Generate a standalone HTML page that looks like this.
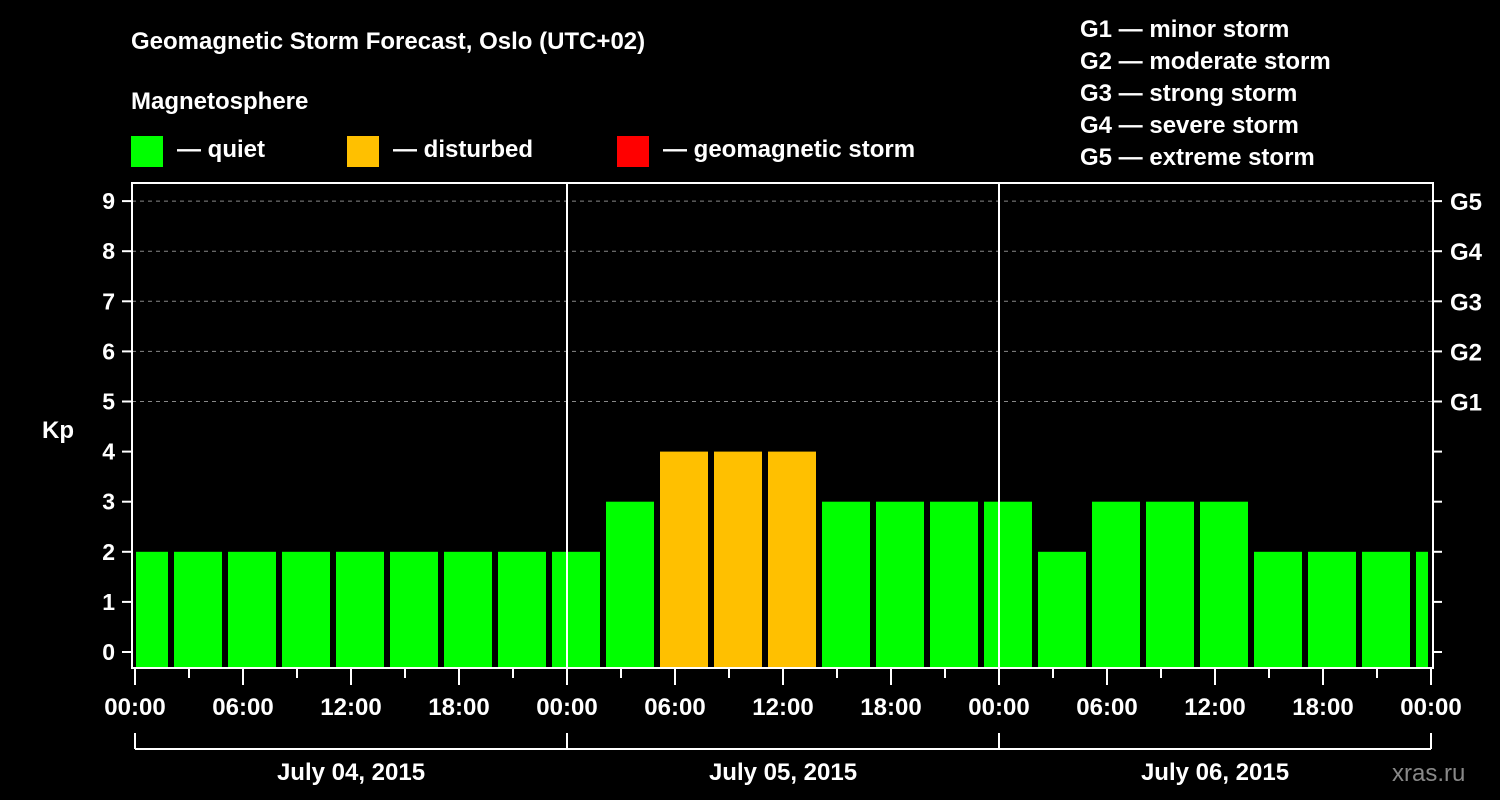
<!DOCTYPE html>
<html><head><meta charset="utf-8"><style>
body{margin:0;background:#000;}
svg{display:block;font-family:"Liberation Sans",Arial,sans-serif;font-weight:bold;}
</style></head><body>
<svg id="chart" width="1500" height="800" viewBox="0 0 1500 800">
<rect width="1500" height="800" fill="#000"/>
<text x="131" y="49" fill="#fff" font-size="24">Geomagnetic Storm Forecast, Oslo (UTC+02)</text>
<text x="131" y="109" fill="#fff" font-size="24">Magnetosphere</text>
<g><rect x="131" y="136" width="32" height="31" fill="#00ff00"/><text x="177" y="157" fill="#fff" font-size="24">— quiet</text></g>
<g><rect x="347" y="136" width="32" height="31" fill="#ffc000"/><text x="393" y="157" fill="#fff" font-size="24">— disturbed</text></g>
<g><rect x="617" y="136" width="32" height="31" fill="#ff0000"/><text x="663" y="157" fill="#fff" font-size="24">— geomagnetic storm</text></g>
<g fill="#fff" font-size="24">
<text x="1080" y="37">G1 — minor storm</text>
<text x="1080" y="69">G2 — moderate storm</text>
<text x="1080" y="101">G3 — strong storm</text>
<text x="1080" y="133">G4 — severe storm</text>
<text x="1080" y="165">G5 — extreme storm</text>
</g>
<text x="42" y="438" fill="#fff" font-size="24">Kp</text>
<g id="grid"></g><g id="bars"></g><g id="axes"></g>
<text x="1392" y="781" fill="#888" font-size="24" font-weight="normal">xras.ru</text>
</svg>
<script>
const kpValues=[2,2,2,2,2,2,2,2,2,3,4,4,4,3,3,3,3,2,3,3,3,2,2,2,2];
const firstBarStartHour=-1;
const dayLabels=["July 04, 2015","July 05, 2015","July 06, 2015"];
const hourLabels=["00:00","06:00","12:00","18:00"];
const gLabels=["G1","G2","G3","G4","G5"];
const NS="http://www.w3.org/2000/svg";
const X0=135,PXH=18,TOTAL=72,Y0=652,PYK=50.1,TOP=183,BOT=668,LEFT=132,RIGHT=1433;
const xs=h=>X0+h*PXH, ys=k=>Y0-k*PYK;
function mk(p,t,a){const e=document.createElementNS(NS,t);for(const k in a)e.setAttribute(k,a[k]);p.appendChild(e);return e;}
const grid=document.getElementById('grid'),bars=document.getElementById('bars'),axes=document.getElementById('axes');
for(let k=5;k<=9;k++){const l=mk(grid,'line',{x1:LEFT,x2:RIGHT,y1:ys(k),y2:ys(k),stroke:'#888','stroke-dasharray':'4,4','stroke-width':1});

}
kpValues.forEach((v,i)=>{const s=firstBarStartHour+3*i;let x1=Math.max(xs(s)+3,LEFT+4),x2=Math.min(xs(s+3)-3,RIGHT-5);
const c=v>=5?'#ff0000':(v>=4?'#ffc000':'#00ff00');
const r=mk(bars,'rect',{x:x1,y:ys(v),width:x2-x1,height:BOT-ys(v),fill:c});

});
mk(axes,'rect',{x:LEFT,y:TOP,width:RIGHT-LEFT,height:BOT-TOP,fill:'none',stroke:'#fff','stroke-width':2});
for(let d=1;d<3;d++)mk(axes,'line',{x1:xs(24*d),x2:xs(24*d),y1:TOP,y2:BOT,stroke:'#fff','stroke-width':2});
for(let k=0;k<=9;k++){mk(axes,'line',{x1:LEFT-10,x2:LEFT,y1:ys(k),y2:ys(k),stroke:'#fff','stroke-width':2});
mk(axes,'line',{x1:RIGHT,x2:RIGHT+9,y1:ys(k),y2:ys(k),stroke:'#fff','stroke-width':2});
const t=mk(axes,'text',{x:115,y:ys(k)+8,fill:'#fff','font-size':23,'text-anchor':'end'});t.textContent=k;

}
gLabels.forEach((g,i)=>{const t=mk(axes,'text',{x:1450,y:ys(5+i)+9,fill:'#fff','font-size':24});t.textContent=g;

});
for(let h=0;h<=TOTAL;h+=3){const long=h%6==0;mk(axes,'line',{x1:xs(h),x2:xs(h),y1:BOT,y2:BOT+(long?17:10),stroke:'#fff','stroke-width':2});
if(long){const t=mk(axes,'text',{x:xs(h),y:715,fill:'#fff','font-size':24,'text-anchor':'middle'});t.textContent=hourLabels[(h/6)%4];

}}
mk(axes,'line',{x1:xs(0),x2:xs(TOTAL),y1:749,y2:749,stroke:'#fff','stroke-width':2});
for(let d=0;d<=3;d++)mk(axes,'line',{x1:xs(24*d),x2:xs(24*d),y1:733,y2:749,stroke:'#fff','stroke-width':2});
dayLabels.forEach((s,d)=>{const t=mk(axes,'text',{x:xs(24*d+12),y:780,fill:'#fff','font-size':24,'text-anchor':'middle'});t.textContent=s;

});
</script>
</body></html>
